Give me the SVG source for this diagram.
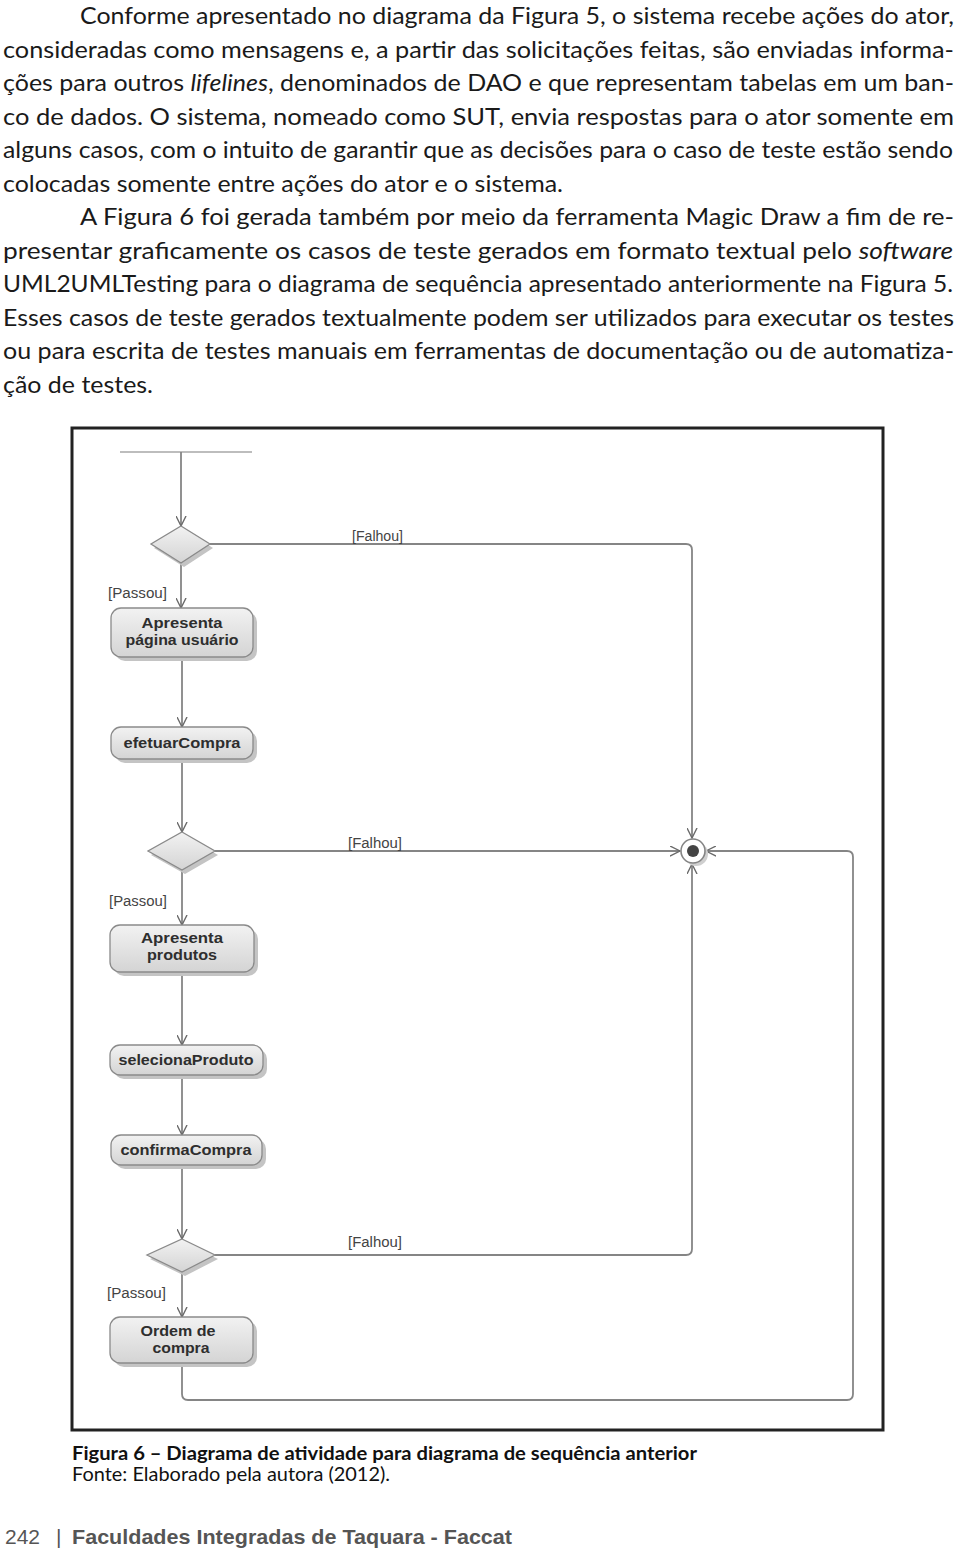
<svg xmlns="http://www.w3.org/2000/svg" width="960" height="1550" viewBox="0 0 960 1550">
<defs>
<linearGradient id="ng" x1="0" y1="0" x2="0" y2="1">
<stop offset="0" stop-color="#f2f2f2"/>
<stop offset="1" stop-color="#d4d4d4"/>
</linearGradient>
<marker id="arr" viewBox="0 0 12 12" refX="11" refY="6" markerWidth="11" markerHeight="11" markerUnits="userSpaceOnUse" orient="auto">
<path d="M0,0.5 L11,6 L0,11.5" fill="none" stroke="#6a6a6a" stroke-width="1.5"/>
</marker>
</defs>
<style>
.body{font-family:Lato,"Liberation Sans",sans-serif;font-size:24px;fill:#1a1a1a}
.it{font-style:italic}
.cap{font-family:Lato,"Liberation Sans",sans-serif;font-size:19px;fill:#111}
.foot{font-family:"Liberation Sans",Arial,sans-serif;font-size:21px;fill:#555}
.frame{fill:#fff;stroke:#222;stroke-width:3}
.conn{fill:none;stroke:#858585;stroke-width:1.8}
.node{fill:url(#ng);stroke:#8a8a8a;stroke-width:1.3}
.shadow{fill:#c4c4c4}
.nt{font-family:"Liberation Sans",Arial,sans-serif;font-size:15px;font-weight:bold;fill:#2e2e2e;text-anchor:middle}
.lbl{font-family:"Liberation Sans",Arial,sans-serif;font-size:14px;fill:#444}
</style>
<rect width="960" height="1550" fill="#fff"/>

<g id="paragraphs">
<text class="body" x="80" y="24" textLength="874" lengthAdjust="spacingAndGlyphs">Conforme apresentado no diagrama da Figura 5, o sistema recebe ações do ator,</text>
<text class="body" x="3" y="57.5" textLength="951" lengthAdjust="spacingAndGlyphs">consideradas como mensagens e, a partir das solicitações feitas, são enviadas informa-</text>
<text class="body" x="3" y="91" textLength="951" lengthAdjust="spacingAndGlyphs">ções para outros <tspan class="it">lifelines</tspan>, denominados de DAO e que representam tabelas em um ban-</text>
<text class="body" x="3" y="124.5" textLength="951" lengthAdjust="spacingAndGlyphs">co de dados. O sistema, nomeado como SUT, envia respostas para o ator somente em</text>
<text class="body" x="3" y="158" textLength="950" lengthAdjust="spacingAndGlyphs">alguns casos, com o intuito de garantir que as decisões para o caso de teste estão sendo</text>
<text class="body" x="3" y="191.5" textLength="560" lengthAdjust="spacingAndGlyphs">colocadas somente entre ações do ator e o sistema.</text>
<text class="body" x="80" y="225" textLength="874" lengthAdjust="spacingAndGlyphs">A Figura 6 foi gerada também por meio da ferramenta Magic Draw a fim de re-</text>
<text class="body" x="3" y="258.5" textLength="950" lengthAdjust="spacingAndGlyphs">presentar graficamente os casos de teste gerados em formato textual pelo <tspan class="it">software</tspan></text>
<text class="body" x="3" y="292" textLength="950" lengthAdjust="spacingAndGlyphs">UML2UMLTesting para o diagrama de sequência apresentado anteriormente na Figura 5.</text>
<text class="body" x="3" y="325.5" textLength="951" lengthAdjust="spacingAndGlyphs">Esses casos de teste gerados textualmente podem ser utilizados para executar os testes</text>
<text class="body" x="3" y="359" textLength="951" lengthAdjust="spacingAndGlyphs">ou para escrita de testes manuais em ferramentas de documentação ou de automatiza-</text>
<text class="body" x="3" y="392.5" textLength="150" lengthAdjust="spacingAndGlyphs">ção de testes.</text>
</g>

<rect id="frame" class="frame" x="72" y="428" width="811" height="1002"/>

<g id="connectors">
<line x1="120" y1="452" x2="252" y2="452" stroke="#bdbdbd" stroke-width="1.8"/>
<path class="conn" d="M181,452 V526" marker-end="url(#arr)"/>
<path class="conn" d="M181,563 V608" marker-end="url(#arr)"/>
<path class="conn" d="M210,544 H686 Q692,544 692,550 V838" marker-end="url(#arr)"/>
<path class="conn" d="M182,657 V727" marker-end="url(#arr)"/>
<path class="conn" d="M182,759 V832" marker-end="url(#arr)"/>
<path class="conn" d="M215,851 H680" marker-end="url(#arr)"/>
<path class="conn" d="M182,870 V925" marker-end="url(#arr)"/>
<path class="conn" d="M182,972 V1045" marker-end="url(#arr)"/>
<path class="conn" d="M182,1075 V1135" marker-end="url(#arr)"/>
<path class="conn" d="M182,1165 V1239" marker-end="url(#arr)"/>
<path class="conn" d="M215,1255 H686 Q692,1255 692,1249 V864" marker-end="url(#arr)"/>
<path class="conn" d="M182,1272 V1317" marker-end="url(#arr)"/>
<path class="conn" d="M182,1363 V1394 Q182,1400 188,1400 H847 Q853,1400 853,1394 V857 Q853,851 847,851 H706" marker-end="url(#arr)"/>
</g>

<g id="labels">
<text class="lbl" x="352" y="541" textLength="51" lengthAdjust="spacingAndGlyphs">[Falhou]</text>
<text class="lbl" x="108" y="598" textLength="59" lengthAdjust="spacingAndGlyphs">[Passou]</text>
<text class="lbl" x="348" y="848" textLength="54" lengthAdjust="spacingAndGlyphs">[Falhou]</text>
<text class="lbl" x="109" y="906" textLength="58" lengthAdjust="spacingAndGlyphs">[Passou]</text>
<text class="lbl" x="348" y="1247" textLength="54" lengthAdjust="spacingAndGlyphs">[Falhou]</text>
<text class="lbl" x="107" y="1298" textLength="59" lengthAdjust="spacingAndGlyphs">[Passou]</text>
</g>

<g id="decision1">
<polygon class="shadow" points="184,530 213,548 184,567 154,548"/>
<polygon class="node" points="181,526 210,544 181,563 151,544"/>
</g>
<g id="node-apresenta-pagina">
<rect class="shadow" x="115" y="612" width="142" height="49" rx="10"/>
<rect class="node" x="111" y="608" width="142" height="49" rx="10"/>
<text class="nt" x="182" y="628" textLength="81" lengthAdjust="spacingAndGlyphs">Apresenta</text>
<text class="nt" x="182" y="645" textLength="113" lengthAdjust="spacingAndGlyphs">página usuário</text>
</g>
<g id="node-efetuarCompra">
<rect class="shadow" x="115" y="731" width="142" height="32" rx="10"/>
<rect class="node" x="111" y="727" width="142" height="32" rx="10"/>
<text class="nt" x="182" y="748" textLength="117" lengthAdjust="spacingAndGlyphs">efetuarCompra</text>
</g>
<g id="decision2">
<polygon class="shadow" points="185,836 218,855 185,874 151,855"/>
<polygon class="node" points="182,832 215,851 182,870 148,851"/>
</g>
<g id="final-node">
<circle cx="696" cy="854" r="12" fill="#cfcfcf"/>
<circle cx="693" cy="851" r="12" fill="#fff" stroke="#858585" stroke-width="1.6"/>
<circle cx="693" cy="851" r="6" fill="#444"/>
</g>
<g id="node-apresenta-produtos">
<rect class="shadow" x="114" y="929" width="144" height="47" rx="10"/>
<rect class="node" x="110" y="925" width="144" height="47" rx="10"/>
<text class="nt" x="182" y="943" textLength="82" lengthAdjust="spacingAndGlyphs">Apresenta</text>
<text class="nt" x="182" y="960" textLength="70" lengthAdjust="spacingAndGlyphs">produtos</text>
</g>
<g id="node-selecionaProduto">
<rect class="shadow" x="114" y="1049" width="153" height="30" rx="10"/>
<rect class="node" x="110" y="1045" width="153" height="30" rx="10"/>
<text class="nt" x="186" y="1065" textLength="135" lengthAdjust="spacingAndGlyphs">selecionaProduto</text>
</g>
<g id="node-confirmaCompra">
<rect class="shadow" x="115" y="1139" width="151" height="30" rx="10"/>
<rect class="node" x="111" y="1135" width="151" height="30" rx="10"/>
<text class="nt" x="186" y="1155" textLength="131" lengthAdjust="spacingAndGlyphs">confirmaCompra</text>
</g>
<g id="decision3">
<polygon class="shadow" points="185,1243 218,1259 185,1276 150,1259"/>
<polygon class="node" points="182,1239 215,1255 182,1272 147,1255"/>
</g>
<g id="node-ordem">
<rect class="shadow" x="114" y="1321" width="143" height="46" rx="10"/>
<rect class="node" x="110" y="1317" width="143" height="46" rx="10"/>
<text class="nt" x="178" y="1336" textLength="75" lengthAdjust="spacingAndGlyphs">Ordem de</text>
<text class="nt" x="181" y="1353" textLength="57" lengthAdjust="spacingAndGlyphs">compra</text>
</g>

<g id="caption">
<text class="cap" x="72" y="1460" font-weight="bold" textLength="625" lengthAdjust="spacingAndGlyphs">Figura 6 – Diagrama de atividade para diagrama de sequência anterior</text>
<text class="cap" x="72" y="1481" textLength="318" lengthAdjust="spacingAndGlyphs">Fonte: Elaborado pela autora (2012).</text>
</g>
<g id="footer">
<text class="foot" x="5" y="1544">242</text>
<text class="foot" x="56" y="1544">|</text>
<text class="foot" x="72" y="1544" font-weight="bold" fill="#666" textLength="440" lengthAdjust="spacingAndGlyphs">Faculdades Integradas de Taquara - Faccat</text>
</g>
</svg>
